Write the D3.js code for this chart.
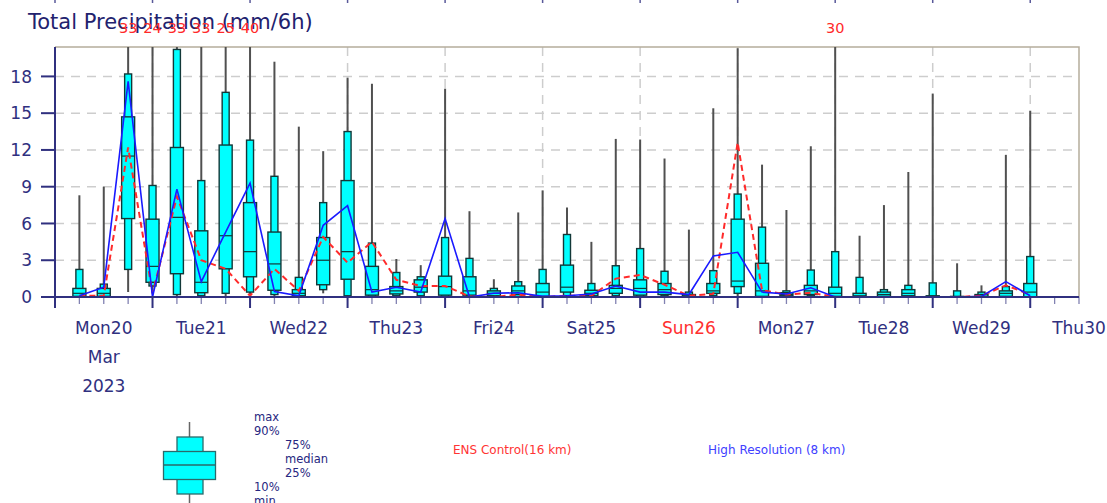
<!DOCTYPE html>
<html><head><meta charset="utf-8">
<script src="https://cdn.jsdelivr.net/npm/d3@7"></script>
<style>
body{margin:0;background:#fff}
svg{display:block;font-family:"DejaVu Sans",sans-serif}
</style>
</head><body>
<svg id="c" width="1107" height="503"></svg>
<script>
// ---------- data ----------
const title = "Total Precipitation (mm/6h)";
const firstStep = "2023-03-20T06:00:00Z";   // boxes every 6 hours
const stepHours = 6;
const boxMin = [0,0,0.4,0.3,0,0,0,0,0,0, 0.3,0,0,0,0,0,0,0,0,0, 0,0,0,0,0,0,0,0,0,0, 0,0,0,0,0,0,0,0,0,0];
const boxP10 = [0,0,2.25,0.9,0.2,0.1,0.3,0.4,0.2,0, 0.6,0.1,0,0.1,0.1,0,0,0,0,0, 0.1,0,0.1,0,0.1,0,0.1,0.3,0,0, 0.1,0,0,0,0,0,0,0,0,0];
const boxP25 = [0.05,0.05,6.4,1.2,1.9,0.35,2.3,1.65,0.55,0.1, 1.0,1.45,0.15,0.25,0.4,0.15,0.15,0.1,0.2,0.05, 0.4,0.1,0.3,0.15,0.2,0,0.3,0.85,0.05,0.1, 0.2,0.05,0,0.05,0.1,0,0,0,0.05,0];
const boxMed = [0.3,0.3,11.5,2.5,6.5,1.2,5.0,3.7,2.7,0.3, 3.0,3.7,0.6,0.5,0.8,0.85,0.5,0.3,0.5,0.4, 0.8,0.3,0.7,0.7,0.6,0.1,0.5,1.3,0.5,0.2, 0.5,0.3,0.1,0.2,0.3,0,0,0.05,0.3,0.4];
const boxP75 = [0.7,0.7,14.7,6.35,12.2,5.4,12.4,7.7,5.3,0.6, 4.85,9.5,2.5,0.85,1.4,1.7,1.65,0.5,0.9,1.1, 2.6,0.55,0.95,1.4,1.1,0.2,1.1,6.35,2.75,0.35, 0.95,0.8,0.3,0.4,0.6,0.1,0.05,0.2,0.5,1.1];
const boxP90 = [2.25,1.05,18.2,9.1,20.2,9.5,16.7,12.8,9.85,1.6, 7.7,13.5,4.4,2.0,1.65,4.85,3.15,0.7,1.25,2.25, 5.1,1.1,2.55,3.95,2.1,0.4,2.15,8.4,5.7,0.5, 2.2,3.7,1.6,0.6,0.95,1.15,0.5,0.4,0.85,3.3];
const boxMax = [8.3,9.0,33,24,33,33,25,40,19.2,13.9, 11.9,17.9,17.4,3.1,2.6,17.0,7.0,1.45,6.9,8.7, 7.3,4.5,12.9,12.85,11.3,5.5,15.4,20.3,10.8,7.1, 12.3,30,5.0,7.5,10.2,16.6,2.75,0.95,11.6,15.2];
const ensControl = [0.1,0.1,12.2,0.3,8.2,3.0,2.3,0.1,2.3,0.5, 4.9,2.8,4.5,1.4,0.9,0.9,0.05,0,0.2,0, 0.1,0.1,1.5,1.8,1.0,0.1,0.25,12.6,0.55,0.2, 0.35,0,0,0,0,0,0,0.1,0.95,0.2];
const highRes = [0.1,0.8,17.6,0,8.8,1.25,5.3,9.3,0.45,0.1, 5.85,7.45,0.4,0.8,0.4,6.4,0,0.3,0.35,0.05, 0.1,0.25,0.9,0.4,0.4,0.2,3.35,3.65,0.4,0.25, 0.75,0,0,0,0,0,0,0.05,1.25,0.1];
const yTicks = [0,3,6,9,12,15,18];
const dayLabels = ["Mon20","Tue21","Wed22","Thu23","Fri24","Sat25","Sun26","Mon27","Tue28","Wed29","Thu30"];
const redDayLabels = ["Sun26"];
const monthLabel = "Mar";
const yearLabel = "2023";
const legendStats = ["max","90%","75%","median","25%","10%","min"];
const legendLines = ["ENS Control(16 km)","High Resolution (8 km)"];

// ---------- layout ----------
const L = 55, R = 1079, T = 47, B = 297;
const navy = "#30307f", gridC = "#cdcdcd";
const svg = d3.select("#c");

const t0 = new Date(Date.UTC(2023,2,20,0));
const t1 = new Date(Date.UTC(2023,2,30,12));
const x = d3.scaleUtc().domain([t0,t1]).range([L,R]);
const yMax = 20.4;
const y = d3.scaleLinear().domain([0,yMax]).range([B,T]);

const times = boxMax.map((_,i)=>d3.utcHour.offset(new Date(firstStep), i*stepHours));
const boxes = times.map((t,i)=>({t, min:boxMin[i], p10:boxP10[i], p25:boxP25[i], med:boxMed[i], p75:boxP75[i], p90:boxP90[i], max:boxMax[i]}));

// tiny marks at the top (remnant of panel above)
svg.selectAll(".topmark").data(d3.utcDay.range(t0, t1)).join("line")
  .attr("x1",d=>x(d)).attr("x2",d=>x(d)).attr("y1",0).attr("y2",3)
  .attr("stroke","#5a5a9a").attr("stroke-width",1.5);

// grid
svg.append("g").selectAll("line").data(yTicks.filter(v=>v>0)).join("line")
  .attr("x1",L).attr("x2",R).attr("y1",d=>y(d)).attr("y2",d=>y(d))
  .attr("stroke",gridC).attr("stroke-width",1.5).attr("stroke-dasharray","9,7");
svg.append("g").selectAll("line").data(d3.utcDay.range(d3.utcDay.offset(t0,1), t1)).join("line")
  .attr("x1",d=>x(d)).attr("x2",d=>x(d)).attr("y1",T).attr("y2",B)
  .attr("stroke",gridC).attr("stroke-width",1.5).attr("stroke-dasharray","9,7");

// frame top/right
svg.append("path").attr("d",`M${L},${T}H${R}V${B}`).attr("fill","none")
  .attr("stroke","#b5ad9c").attr("stroke-width",1.5);

// clip
svg.append("clipPath").attr("id","pc").append("rect").attr("x",L).attr("y",T).attr("width",R-L).attr("height",B-T+1);
const plot = svg.append("g").attr("clip-path","url(#pc)");

// boxes
const wWide = 13, wThin = 7;
const bg = plot.selectAll(".box").data(boxes).join("g");
bg.append("line").attr("x1",d=>x(d.t)).attr("x2",d=>x(d.t))
  .attr("y1",d=>y(d.min)).attr("y2",d=>y(d.max)).attr("stroke","#505050").attr("stroke-width",2);
bg.append("rect").attr("x",d=>x(d.t)-wThin/2).attr("width",wThin)
  .attr("y",d=>y(d.p90)).attr("height",d=>Math.max(0,y(d.p10)-y(d.p90)))
  .attr("fill","#00ffff").attr("stroke","#123838").attr("stroke-width",1.4);
bg.append("rect").attr("x",d=>x(d.t)-wWide/2).attr("width",wWide)
  .attr("y",d=>y(d.p75)).attr("height",d=>Math.max(0,y(d.p25)-y(d.p75)))
  .attr("fill","#00ffff").attr("stroke","#123838").attr("stroke-width",1.4);
bg.append("line").attr("x1",d=>x(d.t)-wWide/2).attr("x2",d=>x(d.t)+wWide/2)
  .attr("y1",d=>y(d.med)).attr("y2",d=>y(d.med)).attr("stroke","#123838").attr("stroke-width",1.2);

// lines
const line = d3.line().x(d=>x(d[0])).y(d=>y(d[1]));
plot.append("path").datum(times.map((t,i)=>[t,ensControl[i]])).attr("d",line)
  .attr("fill","none").attr("stroke","#ff2a2a").attr("stroke-width",2).attr("stroke-dasharray","6,4");
plot.append("path").datum(times.map((t,i)=>[t,highRes[i]])).attr("d",line)
  .attr("fill","none").attr("stroke","#1a1aff").attr("stroke-width",1.6);

// title
svg.append("text").attr("x",28).attr("y",29).attr("font-size",21).attr("fill","#22226e").text(title);

// labels for off-scale maxima
svg.selectAll(".ovl").data(boxes.filter(d=>d.max>yMax)).join("text")
  .attr("x",d=>x(d.t)).attr("y",33).attr("text-anchor","middle").attr("font-size",14.5)
  .attr("fill","#ff2a2a").text(d=>d3.format("d")(d.max));

// y axis
svg.append("line").attr("x1",L).attr("x2",L).attr("y1",T).attr("y2",B+11).attr("stroke",navy).attr("stroke-width",2);
const yg = svg.append("g").selectAll("g").data(yTicks).join("g");
yg.append("line").attr("x1",41).attr("x2",L).attr("y1",d=>y(d)).attr("y2",d=>y(d)).attr("stroke",navy).attr("stroke-width",2);
yg.append("text").attr("x",32).attr("y",d=>y(d)).attr("dy","0.36em").attr("text-anchor","end")
  .attr("font-size",17).attr("fill",navy).text(d=>d);

// x axis
svg.append("line").attr("x1",L).attr("x2",R).attr("y1",B).attr("y2",B).attr("stroke",navy).attr("stroke-width",2.2);
svg.append("g").selectAll("line").data(d3.utcHour.every(6).range(t0, d3.utcHour.offset(t1,1))).join("line")
  .attr("x1",d=>x(d)).attr("x2",d=>x(d)).attr("y1",B)
  .attr("y2",d=>d.getUTCHours()===0 ? B+11 : B+7)
  .attr("stroke",navy).attr("stroke-width",d=>d.getUTCHours()===0?2:1.3)
  .attr("opacity",d=>d.getUTCHours()===0?1:0.6);
const noons = d3.utcDay.range(t0, d3.utcDay.offset(t1,1)).map(d=>d3.utcHour.offset(d,12));
svg.append("g").selectAll("text").data(noons).join("text")
  .attr("x",d=>x(d)).attr("y",334).attr("text-anchor","middle").attr("font-size",17)
  .attr("fill",(d,i)=>redDayLabels.includes(dayLabels[i])?"#ff3030":navy)
  .text((d,i)=>dayLabels[i]);
svg.append("text").attr("x",x(noons[0])).attr("y",363).attr("text-anchor","middle").attr("font-size",17).attr("fill",navy).text(monthLabel);
svg.append("text").attr("x",x(noons[0])).attr("y",392).attr("text-anchor","middle").attr("font-size",17).attr("fill",navy).text(yearLabel);

// legend
const lg = svg.append("g");
lg.append("line").attr("x1",189.5).attr("x2",189.5).attr("y1",422).attr("y2",503).attr("stroke","#666").attr("stroke-width",1.5);
lg.append("rect").attr("x",177).attr("y",437).attr("width",26).attr("height",57).attr("fill","#00ffff").attr("stroke","#2b6a6a").attr("stroke-width",1.3);
lg.append("rect").attr("x",163.5).attr("y",451.5).attr("width",52).attr("height",28).attr("fill","#00ffff").attr("stroke","#2b6a6a").attr("stroke-width",1.3);
lg.append("line").attr("x1",163.5).attr("x2",215.5).attr("y1",465).attr("y2",465).attr("stroke","#2b6a6a").attr("stroke-width",1.5);
const statPos = [[254,421],[254,435],[285,449],[285,463],[285,477],[254,491],[254,505]];
lg.selectAll(".st").data(legendStats).join("text")
  .attr("x",(d,i)=>statPos[i][0]).attr("y",(d,i)=>statPos[i][1]).attr("font-size",11.5).attr("fill","#262680").text(d=>d);
lg.append("text").attr("x",453).attr("y",454).attr("font-size",12).attr("fill","#ff3333").text(legendLines[0]);
lg.append("text").attr("x",708).attr("y",454).attr("font-size",12).attr("fill","#4040ff").text(legendLines[1]);
</script>
</body></html>
